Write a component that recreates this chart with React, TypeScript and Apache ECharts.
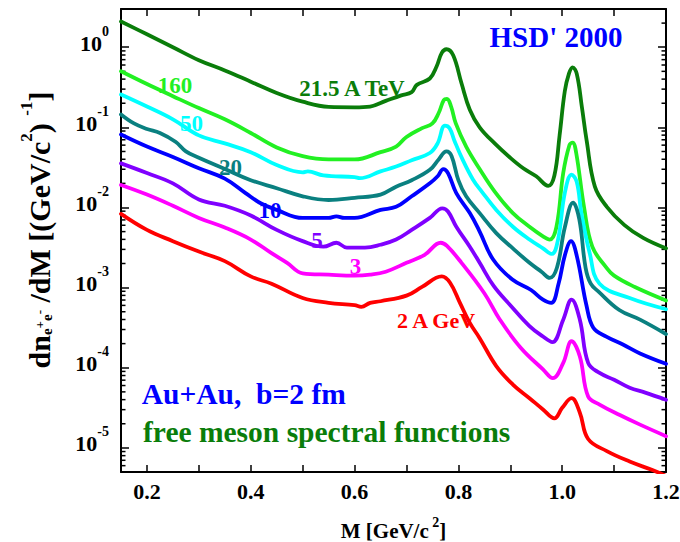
import React, { useEffect, useRef } from 'react';
import * as echarts from 'echarts';

const X_MIN = 0.15;
const X_MAX = 1.2;
const Y_MIN = 5e-6;
const Y_MAX = 3;

const xTickLabels = ['0.2', '0.4', '0.6', '0.8', '1.0', '1.2'];
const yDecadeExponents = [0, -1, -2, -3, -4, -5];
const minorMantissas = [2, 3, 4, 5, 6, 7, 8, 9];
const minorExponents = [-6, -5, -4, -3, -2, -1, 0];

// [M (GeV/c^2), dN/dM]
const curve21TeV: [number, number][] = [
  [0.15, 2.09], [0.2, 1.45], [0.25, 1.0], [0.3, 0.69], [0.35, 0.513], [0.4, 0.372],
  [0.45, 0.269], [0.5, 0.209], [0.55, 0.18], [0.6, 0.178], [0.63, 0.182], [0.66, 0.214],
  [0.69, 0.251], [0.71, 0.275], [0.72, 0.339], [0.745, 0.407], [0.758, 0.575], [0.768, 0.85],
  [0.777, 0.944], [0.79, 0.794], [0.806, 0.355], [0.822, 0.166], [0.841, 0.1], [0.87, 0.063],
  [0.9, 0.0417], [0.925, 0.0309], [0.95, 0.0245], [0.973, 0.0186], [0.985, 0.0251],
  [0.995, 0.0794], [1.005, 0.282], [1.013, 0.468], [1.02, 0.562], [1.028, 0.468],
  [1.038, 0.178], [1.047, 0.0692], [1.063, 0.0182], [1.086, 0.0102], [1.12, 0.00603],
  [1.156, 0.00417], [1.2, 0.00309],
];

const curve160: [number, number][] = [
  [0.15, 0.501], [0.2, 0.347], [0.25, 0.245], [0.3, 0.174], [0.35, 0.126], [0.4, 0.0851],
  [0.45, 0.0562], [0.5, 0.0437], [0.55, 0.0398], [0.6, 0.0398], [0.65, 0.049], [0.68, 0.0575],
  [0.7, 0.0759], [0.73, 0.0977], [0.75, 0.112], [0.762, 0.151], [0.772, 0.219], [0.778, 0.226],
  [0.786, 0.182], [0.795, 0.112], [0.815, 0.0575], [0.84, 0.0309], [0.87, 0.0158],
  [0.905, 0.00851], [0.937, 0.00575], [0.963, 0.00437], [0.976, 0.00398], [0.989, 0.00575],
  [1.002, 0.0269], [1.014, 0.0603], [1.02, 0.0646], [1.027, 0.0479], [1.042, 0.0102],
  [1.058, 0.00324], [1.084, 0.00182], [1.1, 0.00141], [1.14, 0.00102], [1.2, 0.000692],
];

const curve50: [number, number][] = [
  [0.15, 0.257], [0.2, 0.182], [0.25, 0.126], [0.3, 0.0794], [0.35, 0.0631], [0.4, 0.049],
  [0.45, 0.0339], [0.5, 0.0275], [0.51, 0.0282], [0.54, 0.0251], [0.6, 0.024], [0.61, 0.0232],
  [0.65, 0.0282], [0.68, 0.0324], [0.71, 0.0389], [0.745, 0.0479], [0.76, 0.0631],
  [0.774, 0.105], [0.783, 0.0977], [0.792, 0.0692], [0.808, 0.0398], [0.828, 0.0224],
  [0.845, 0.0158], [0.873, 0.00933], [0.905, 0.00575], [0.937, 0.00398], [0.963, 0.00309],
  [0.98, 0.00263], [0.992, 0.00398], [1.005, 0.0151], [1.018, 0.0257], [1.028, 0.0209],
  [1.037, 0.00851], [1.053, 0.00269], [1.072, 0.00112], [1.13, 0.000741], [1.2, 0.000537],
];

const curve20: [number, number][] = [
  [0.15, 0.145], [0.175, 0.112], [0.2, 0.0955], [0.225, 0.0851], [0.255, 0.0661], [0.275, 0.0501],
  [0.3, 0.0417], [0.35, 0.0302], [0.4, 0.0219], [0.45, 0.0174], [0.5, 0.0138], [0.55, 0.0124],
  [0.6, 0.0132], [0.65, 0.0145], [0.68, 0.0182], [0.71, 0.0219], [0.745, 0.0295], [0.762, 0.0398],
  [0.777, 0.0501], [0.787, 0.0437], [0.8, 0.0219], [0.815, 0.0138], [0.841, 0.00851],
  [0.873, 0.00479], [0.905, 0.00309], [0.937, 0.00204], [0.96, 0.00158], [0.976, 0.00132],
  [0.99, 0.00178], [1.005, 0.00562], [1.021, 0.0115], [1.033, 0.00708], [1.045, 0.00178],
  [1.055, 0.00112], [1.07, 0.000891], [1.11, 0.000525], [1.15, 0.000398], [1.2, 0.000263],
];

const curve10: [number, number][] = [
  [0.15, 0.0813], [0.2, 0.0575], [0.25, 0.0427], [0.3, 0.0309], [0.35, 0.0229], [0.39, 0.0151],
  [0.42, 0.0112], [0.45, 0.00933], [0.5, 0.00741], [0.55, 0.00741], [0.565, 0.00776],
  [0.58, 0.00741], [0.6, 0.00741], [0.65, 0.00933], [0.68, 0.0102], [0.71, 0.0138], [0.745, 0.02],
  [0.76, 0.0245], [0.771, 0.0302], [0.78, 0.0269], [0.796, 0.0151], [0.822, 0.00851],
  [0.841, 0.00501], [0.867, 0.00224], [0.904, 0.00126], [0.94, 0.000933], [0.963, 0.000708],
  [0.979, 0.000646], [0.993, 0.00112], [1.005, 0.00251], [1.017, 0.0038], [1.028, 0.00251],
  [1.047, 0.000589], [1.06, 0.000316], [1.085, 0.000245], [1.117, 0.000195], [1.15, 0.000151],
  [1.2, 0.000112],
];

const curve5: [number, number][] = [
  [0.15, 0.0355], [0.2, 0.0269], [0.25, 0.02], [0.3, 0.0126], [0.35, 0.0105], [0.4, 0.00794],
  [0.45, 0.00525], [0.5, 0.0038], [0.54, 0.00324], [0.565, 0.00363], [0.585, 0.00316],
  [0.62, 0.00316], [0.65, 0.00343], [0.68, 0.00398], [0.71, 0.00525], [0.745, 0.00741],
  [0.769, 0.00977], [0.78, 0.00891], [0.796, 0.00575], [0.822, 0.00324], [0.841, 0.00204],
  [0.868, 0.00105], [0.9, 0.000603], [0.937, 0.000331], [0.963, 0.000245], [0.981, 0.000209],
  [1.002, 0.000398], [1.018, 0.000708], [1.034, 0.000398], [1.05, 0.000115], [1.072, 0.0000861],
  [1.1, 0.0000708], [1.13, 0.0000562], [1.16, 0.000049], [1.2, 0.0000398],
];

const curve3: [number, number][] = [
  [0.15, 0.0191], [0.2, 0.0145], [0.25, 0.0105], [0.3, 0.00741], [0.35, 0.00562], [0.4, 0.00398],
  [0.44, 0.00269], [0.47, 0.00204], [0.5, 0.00151], [0.55, 0.00145], [0.6, 0.00141],
  [0.63, 0.00145], [0.66, 0.00158], [0.7, 0.00204], [0.735, 0.00257], [0.766, 0.00363],
  [0.778, 0.00331], [0.806, 0.00204], [0.85, 0.000851], [0.88, 0.000398], [0.92, 0.000178],
  [0.963, 0.0000955], [0.982, 0.0000741], [1.002, 0.000115], [1.018, 0.000214],
  [1.034, 0.000138], [1.05, 0.0000437], [1.072, 0.0000347], [1.111, 0.0000257],
  [1.15, 0.0000195], [1.2, 0.000014],
];

const curve2: [number, number][] = [
  [0.15, 0.00832], [0.2, 0.00525], [0.25, 0.0038], [0.3, 0.00282], [0.35, 0.00214], [0.4, 0.00138],
  [0.44, 0.00112], [0.5, 0.000741], [0.55, 0.000646], [0.6, 0.000603], [0.613, 0.000575],
  [0.63, 0.000646], [0.65, 0.000676], [0.7, 0.000794], [0.73, 0.00102], [0.768, 0.00138],
  [0.784, 0.00115], [0.803, 0.000646], [0.822, 0.000363], [0.841, 0.000234], [0.873, 0.000105],
  [0.905, 0.0000617], [0.937, 0.0000417], [0.963, 0.0000302], [0.985, 0.0000234],
  [1.0, 0.0000316], [1.018, 0.0000417], [1.034, 0.0000275], [1.05, 0.0000129],
  [1.086, 0.00000912], [1.13, 0.00000676], [1.175, 0.00000525], [1.2, 0.00000447],
];

const seriesDefs = [
  { name: '21.5 A TeV', color: '#0a7d0a', data: curve21TeV },
  { name: '160 A GeV', color: '#22f022', data: curve160 },
  { name: '50 A GeV', color: '#00ffff', data: curve50 },
  { name: '20 A GeV', color: '#0a8080', data: curve20 },
  { name: '10 A GeV', color: '#0000ff', data: curve10 },
  { name: '5 A GeV', color: '#8000ff', data: curve5 },
  { name: '3 A GeV', color: '#ff00ff', data: curve3 },
  { name: '2 A GeV', color: '#ff0000', data: curve2 },
];

const FONT = '"Liberation Serif", "Times New Roman", Times, serif';

function txt(text: string, x: number, y: number, fill: string, size: number, align = 'center') {
  return {
    type: 'text',
    x,
    y,
    silent: true,
    z: 100,
    style: {
      text,
      fill,
      fontSize: size,
      fontWeight: 'bold',
      fontFamily: FONT,
      align,
      verticalAlign: 'middle',
      textAlign: align,
      textVerticalAlign: 'middle',
    },
  };
}

export default function App() {
  const ref = useRef<HTMLDivElement>(null);

  useEffect(() => {
    if (!ref.current) return;
    const chart = echarts.init(ref.current, undefined, { renderer: 'svg' });

    const minorTicks: [number, number][] = [];
    minorExponents.forEach((e) => {
      minorMantissas.forEach((m) => {
        const v = m * Math.pow(10, e);
        if (v > Y_MIN && v < Y_MAX) minorTicks.push([X_MIN, v]);
      });
    });

    const axisLine = { show: true, onZero: false, lineStyle: { color: '#000', width: 2 } };

    const xLabelFmt = (v: number) => {
      const s = v.toFixed(1);
      return xTickLabels.includes(s) && Math.abs(v - Number(s)) < 1e-6 ? s : '';
    };
    const yLabelFmt = (v: number) => {
      const l = Math.log10(v);
      const e = Math.round(l);
      if (Math.abs(l - e) > 1e-4 || !yDecadeExponents.includes(e)) return '';
      return `{b|10}{e|${e}}`;
    };

    const option: any = {
      animation: false,
      backgroundColor: '#fff',
      grid: { left: 121, top: 9, width: 545, height: 463, containLabel: false, outerBoundsMode: 'none' },
      xAxis: [
        {
          type: 'value',
          position: 'bottom',
          min: X_MIN,
          max: X_MAX,
          splitNumber: 10,
          axisLine,
          axisTick: { show: true, inside: true, length: 7, lineStyle: { color: '#000', width: 1.5 } },
          axisLabel: {
            formatter: xLabelFmt,
            color: '#000',
            fontSize: 22,
            fontWeight: 'bold',
            fontFamily: FONT,
            margin: 8,
          },
          splitLine: { show: false },
        },
        {
          type: 'value',
          position: 'top',
          min: X_MIN,
          max: X_MAX,
          splitNumber: 10,
          axisLine,
          axisTick: { show: true, inside: true, length: 7, lineStyle: { color: '#000', width: 1.5 } },
          axisLabel: { show: false },
          splitLine: { show: false },
        },
      ],
      yAxis: [
        {
          type: 'log',
          logBase: 10,
          position: 'left',
          min: Y_MIN,
          max: Y_MAX,
          axisLine,
          axisTick: { show: true, inside: true, length: 8, lineStyle: { color: '#000', width: 1.5 } },
          axisLabel: {
            formatter: yLabelFmt,
            margin: 12,
            padding: [0, 0, 16, 0],
            rich: {
              b: { fontSize: 22, fontWeight: 'bold', fontFamily: FONT, color: '#000', lineHeight: 30, verticalAlign: 'bottom' },
              e: { fontSize: 14, fontWeight: 'bold', fontFamily: FONT, color: '#000', lineHeight: 14, verticalAlign: 'top' },
            },
          },
          splitLine: { show: false },
          minorTick: { show: false },
        },
        {
          type: 'log',
          logBase: 10,
          position: 'right',
          min: Y_MIN,
          max: Y_MAX,
          axisLine,
          axisTick: { show: true, inside: true, length: 8, lineStyle: { color: '#000', width: 1.5 } },
          axisLabel: { show: false },
          splitLine: { show: false },
        },
      ],
      series: [
        ...seriesDefs.map((s) => ({
          type: 'line',
          name: s.name,
          data: s.data,
          xAxisIndex: 0,
          yAxisIndex: 0,
          showSymbol: false,
          symbol: 'none',
          smooth: 0.4,
          clip: true,
          silent: true,
          lineStyle: { color: s.color, width: 3.8, join: 'round', cap: 'round' },
          itemStyle: { color: s.color },
        })),
        {
          type: 'custom',
          xAxisIndex: 0,
          yAxisIndex: 0,
          silent: true,
          data: minorTicks,
          renderItem: (params: any, api: any) => {
            const v = api.value(1);
            const l = api.coord([X_MIN, v]);
            const r = api.coord([X_MAX, v]);
            return {
              type: 'group',
              children: [
                { type: 'line', shape: { x1: l[0], y1: l[1], x2: l[0] + 4.5, y2: l[1] }, style: { stroke: '#000', lineWidth: 1.5 } },
                { type: 'line', shape: { x1: r[0] - 4.5, y1: r[1], x2: r[0], y2: r[1] }, style: { stroke: '#000', lineWidth: 1.5 } },
              ],
            };
          },
        },
      ],
      graphic: [
        txt('HSD\' 2000', 556, 37, '#0000ff', 29),
        txt('21.5 A TeV', 352, 88, '#0a7d0a', 23),
        txt('160', 175, 85, '#22f022', 23),
        txt('50', 191.5, 123, '#00ffff', 23),
        txt('20', 230.5, 167, '#0a8080', 23),
        txt('10', 270, 210, '#0000ff', 23),
        txt('5', 317, 240, '#8000ff', 23),
        txt('3', 355.5, 266, '#ff00ff', 23),
        txt('2 A GeV', 436, 320, '#ff0000', 22),
        txt('Au+Au,  b=2 fm', 141.7, 394, '#0000ff', 29.5, 'left'),
        txt('free meson spectral functions', 143, 432, '#0a7d0a', 29.5, 'left'),
        {
          type: 'text',
          x: 393.5,
          y: 528,
          silent: true,
          style: {
            text: '{a|M [GeV/c}{s| 2}{a|]}',
            align: 'center',
            verticalAlign: 'middle',
            textAlign: 'center',
            textVerticalAlign: 'middle',
            rich: {
              a: { fontSize: 21, fontWeight: 'bold', fontFamily: FONT, fill: '#000', color: '#000', lineHeight: 26, verticalAlign: 'bottom' },
              s: { fontSize: 14, fontWeight: 'bold', fontFamily: FONT, fill: '#000', color: '#000', lineHeight: 14, verticalAlign: 'top' },
            },
          },
        },
        {
          type: 'text',
          x: 36,
          y: 230,
          rotation: Math.PI / 2,
          silent: true,
          style: {
            text: '{a|dn}{s|e}{p|+}{s|e}{p|-}{a| /dM [(GeV/c}{q|2}{a|) }{q|-1}{a|]}',
            align: 'center',
            verticalAlign: 'middle',
            textAlign: 'center',
            textVerticalAlign: 'middle',
            rich: {
              a: { fontSize: 30, fontWeight: 'bold', fontFamily: FONT, fill: '#000', color: '#000', lineHeight: 36, verticalAlign: 'bottom' },
              s: { fontSize: 15, fontWeight: 'bold', fontFamily: FONT, fill: '#000', color: '#000', lineHeight: 15, verticalAlign: 'bottom' },
              p: { fontSize: 13, fontWeight: 'bold', fontFamily: FONT, fill: '#000', color: '#000', lineHeight: 13, verticalAlign: 'bottom', padding: [0, 0, 8, 0] },
              q: { fontSize: 17, fontWeight: 'bold', fontFamily: FONT, fill: '#000', color: '#000', lineHeight: 17, verticalAlign: 'top' },
            },
          },
        },
      ],
    };

    chart.setOption(option);
    return () => chart.dispose();
  }, []);

  return (
    <div
      ref={ref}
      style={{ position: 'fixed', left: 0, top: 0, width: 680, height: 542, background: '#fff' }}
    />
  );
}
